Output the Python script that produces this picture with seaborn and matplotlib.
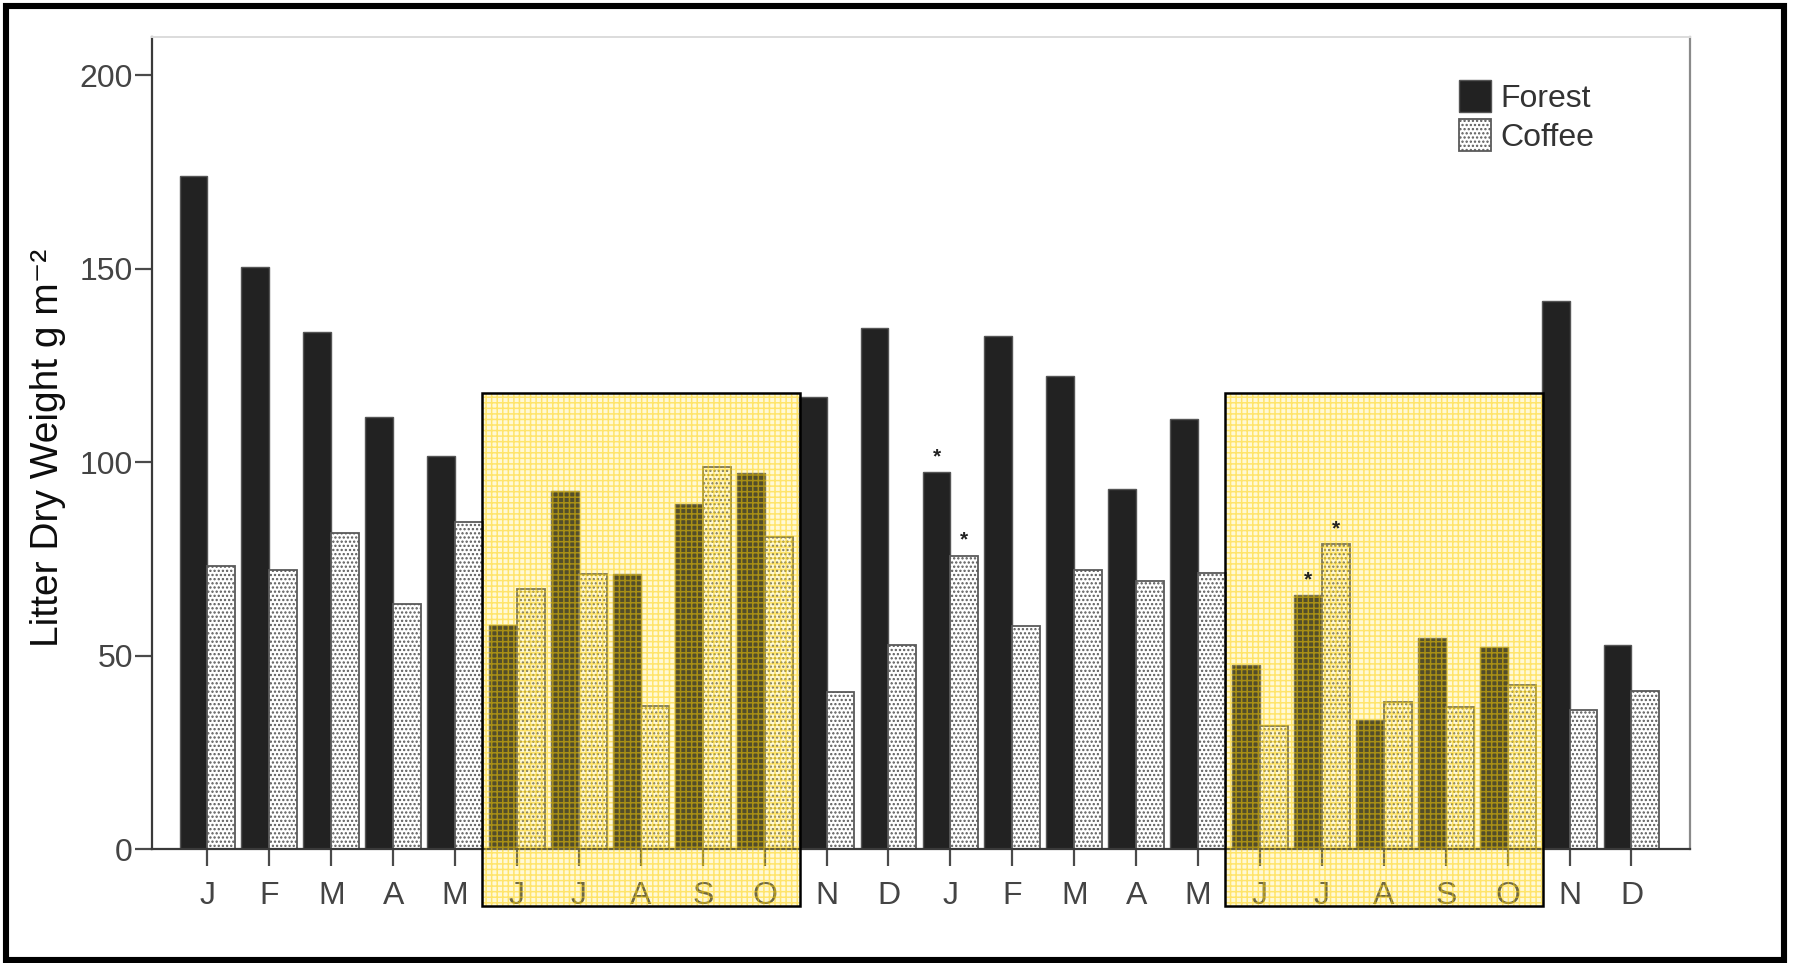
import matplotlib
matplotlib.use("Agg")
import matplotlib.pyplot as plt
from matplotlib.patches import Rectangle, Patch
import pandas as pd
import seaborn as sns

# Monthly litter fall over two years (g m-2)
months = ["J", "F", "M", "A", "M", "J", "J", "A", "S", "O", "N", "D",
          "J", "F", "M", "A", "M", "J", "J", "A", "S", "O", "N", "D"]
forest = [174.0, 150.5, 133.6, 111.7, 101.6, 58.1, 92.7, 71.1, 89.2, 97.2, 117.0, 134.8,
          97.5, 132.7, 122.4, 93.0, 111.1, 47.7, 65.8, 33.5, 54.5, 52.4, 141.6, 52.7]
coffee = [73.2, 72.3, 81.8, 63.4, 84.7, 67.3, 71.1, 37.0, 98.7, 80.6, 40.6, 52.7,
          75.9, 57.8, 72.3, 69.3, 71.4, 32.0, 78.8, 38.2, 36.7, 42.4, 36.1, 40.9]
# months flagged with a significance asterisk
forest_marked = [12, 18]
coffee_marked = [12, 18]
# rainy season (June-October) of each year, as month positions
wet_seasons = [(5, 9), (17, 21)]
sites = ["Forest", "Coffee"]
yticks = [0, 50, 100, 150, 200]

periods = [f"p{i:02d}" for i in range(len(months))]
df = pd.DataFrame({
    "period": periods * 2,
    "site": ["Forest"] * len(forest) + ["Coffee"] * len(coffee),
    "weight": forest + coffee,
})

sns.set_theme(style="white")
plt.rcParams["font.family"] = ["Liberation Sans", "DejaVu Sans"]
plt.rcParams["hatch.linewidth"] = 1.1

W, H = 1795, 963
fig = plt.figure(figsize=(W / 100, H / 100), dpi=100)
fig.patch.set_facecolor("white")
ax = fig.add_axes([152.3 / W, 1 - 849.4 / H, (1689.7 - 152.3) / W, (849.4 - 36.6) / H])

sns.barplot(data=df, x="period", y="weight", hue="site", order=periods,
            hue_order=sites, palette={"Forest": "#222222", "Coffee": "white"},
            width=0.9, saturation=1, errorbar=None, legend=False, ax=ax)

forest_bars, coffee_bars = ax.containers[0], ax.containers[1]
for b in forest_bars:
    b.set_edgecolor("#555555")
    b.set_linewidth(1.0)
for b in coffee_bars:
    b.set_facecolor("white")
    b.set_edgecolor("#5a5a5a")
    b.set_hatch("....")
    b.set_linewidth(1.3)

# significance asterisks
for bars, vals, marked in ((forest_bars, forest, forest_marked),
                           (coffee_bars, coffee, coffee_marked)):
    for i in marked:
        b = bars[i]
        ax.text(b.get_x() + b.get_width() / 2, vals[i] + 1.5, "*",
                ha="center", va="bottom", fontsize=15, fontweight="bold",
                color="#222222", zorder=8)

ax.set_xlim(-0.89, 23.94)
ax.set_ylim(0, 210)
ax.set_xticks(range(len(months)))
ax.set_xticklabels(months)
ax.set_yticks(yticks)
ax.set_xlabel("")
ax.set_ylabel("")

for lab in ax.get_xticklabels() + ax.get_yticklabels():
    lab.set_fontsize(23)
    lab.set_color("#444444")
ax.tick_params(axis="both", which="major", direction="out", length=12,
               width=1.6, color="#4a4a4a", left=True, bottom=True)
ax.tick_params(axis="x", pad=11)
ax.tick_params(axis="y", pad=2)

ax.spines["left"].set_color("#3a3a3a")
ax.spines["bottom"].set_color("#3a3a3a")
ax.spines["left"].set_linewidth(1.6)
ax.spines["bottom"].set_linewidth(1.6)
ax.spines["top"].set_color("#dcdcdc")
ax.spines["top"].set_linewidth(1.4)
ax.spines["right"].set_color("#8a8a8a")
ax.spines["right"].set_linewidth(1.6)

# rainy-season highlight boxes (extend below the axis over the month labels)
for a, b in wet_seasons:
    x0, x1 = a - 0.57, b + 0.57
    y0, y1 = -14.6, 117.8
    ax.add_patch(Rectangle((x0, y0), x1 - x0, y1 - y0, facecolor=(1.0, 0.9, 0.3, 0.22),
                           edgecolor="none", clip_on=False, zorder=5))
    ax.add_patch(Rectangle((x0, y0), x1 - x0, y1 - y0, fill=False, hatch="+++",
                           edgecolor=(1.0, 0.82, 0.0, 0.5), linewidth=0,
                           clip_on=False, zorder=6))
    ax.add_patch(Rectangle((x0, y0), x1 - x0, y1 - y0, fill=False,
                           edgecolor="black", linewidth=1.8, clip_on=False, zorder=7))

fig.text(48 / W, 1 - 448 / H, "Litter Dry Weight g m\u207b\u00b2",
         rotation=90, ha="center", va="center", fontsize=28, color="#0d0d0d",
         family=["Liberation Sans", "DejaVu Sans"])

handles = [Patch(facecolor="#222222", edgecolor="#555555", linewidth=1.0),
           Patch(facecolor="white", edgecolor="#5a5a5a", hatch="....", linewidth=1.3)]
fig.legend(handles, sites, loc="upper left", bbox_to_anchor=(1459 / W, 1 - 80 / H),
           frameon=False, fontsize=23, handlelength=1.0, handleheight=1.15,
           handletextpad=0.3, labelspacing=0.17, borderpad=0, borderaxespad=0,
           labelcolor="#333333")

# outer frame
fig.patches.append(Rectangle((5.5 / W, 1 - 960 / H), (1784 - 5.5) / W, (960 - 6) / H,
                             transform=fig.transFigure, fill=False,
                             edgecolor="black", linewidth=4.4))

fig.savefig("out.png", dpi=100)
